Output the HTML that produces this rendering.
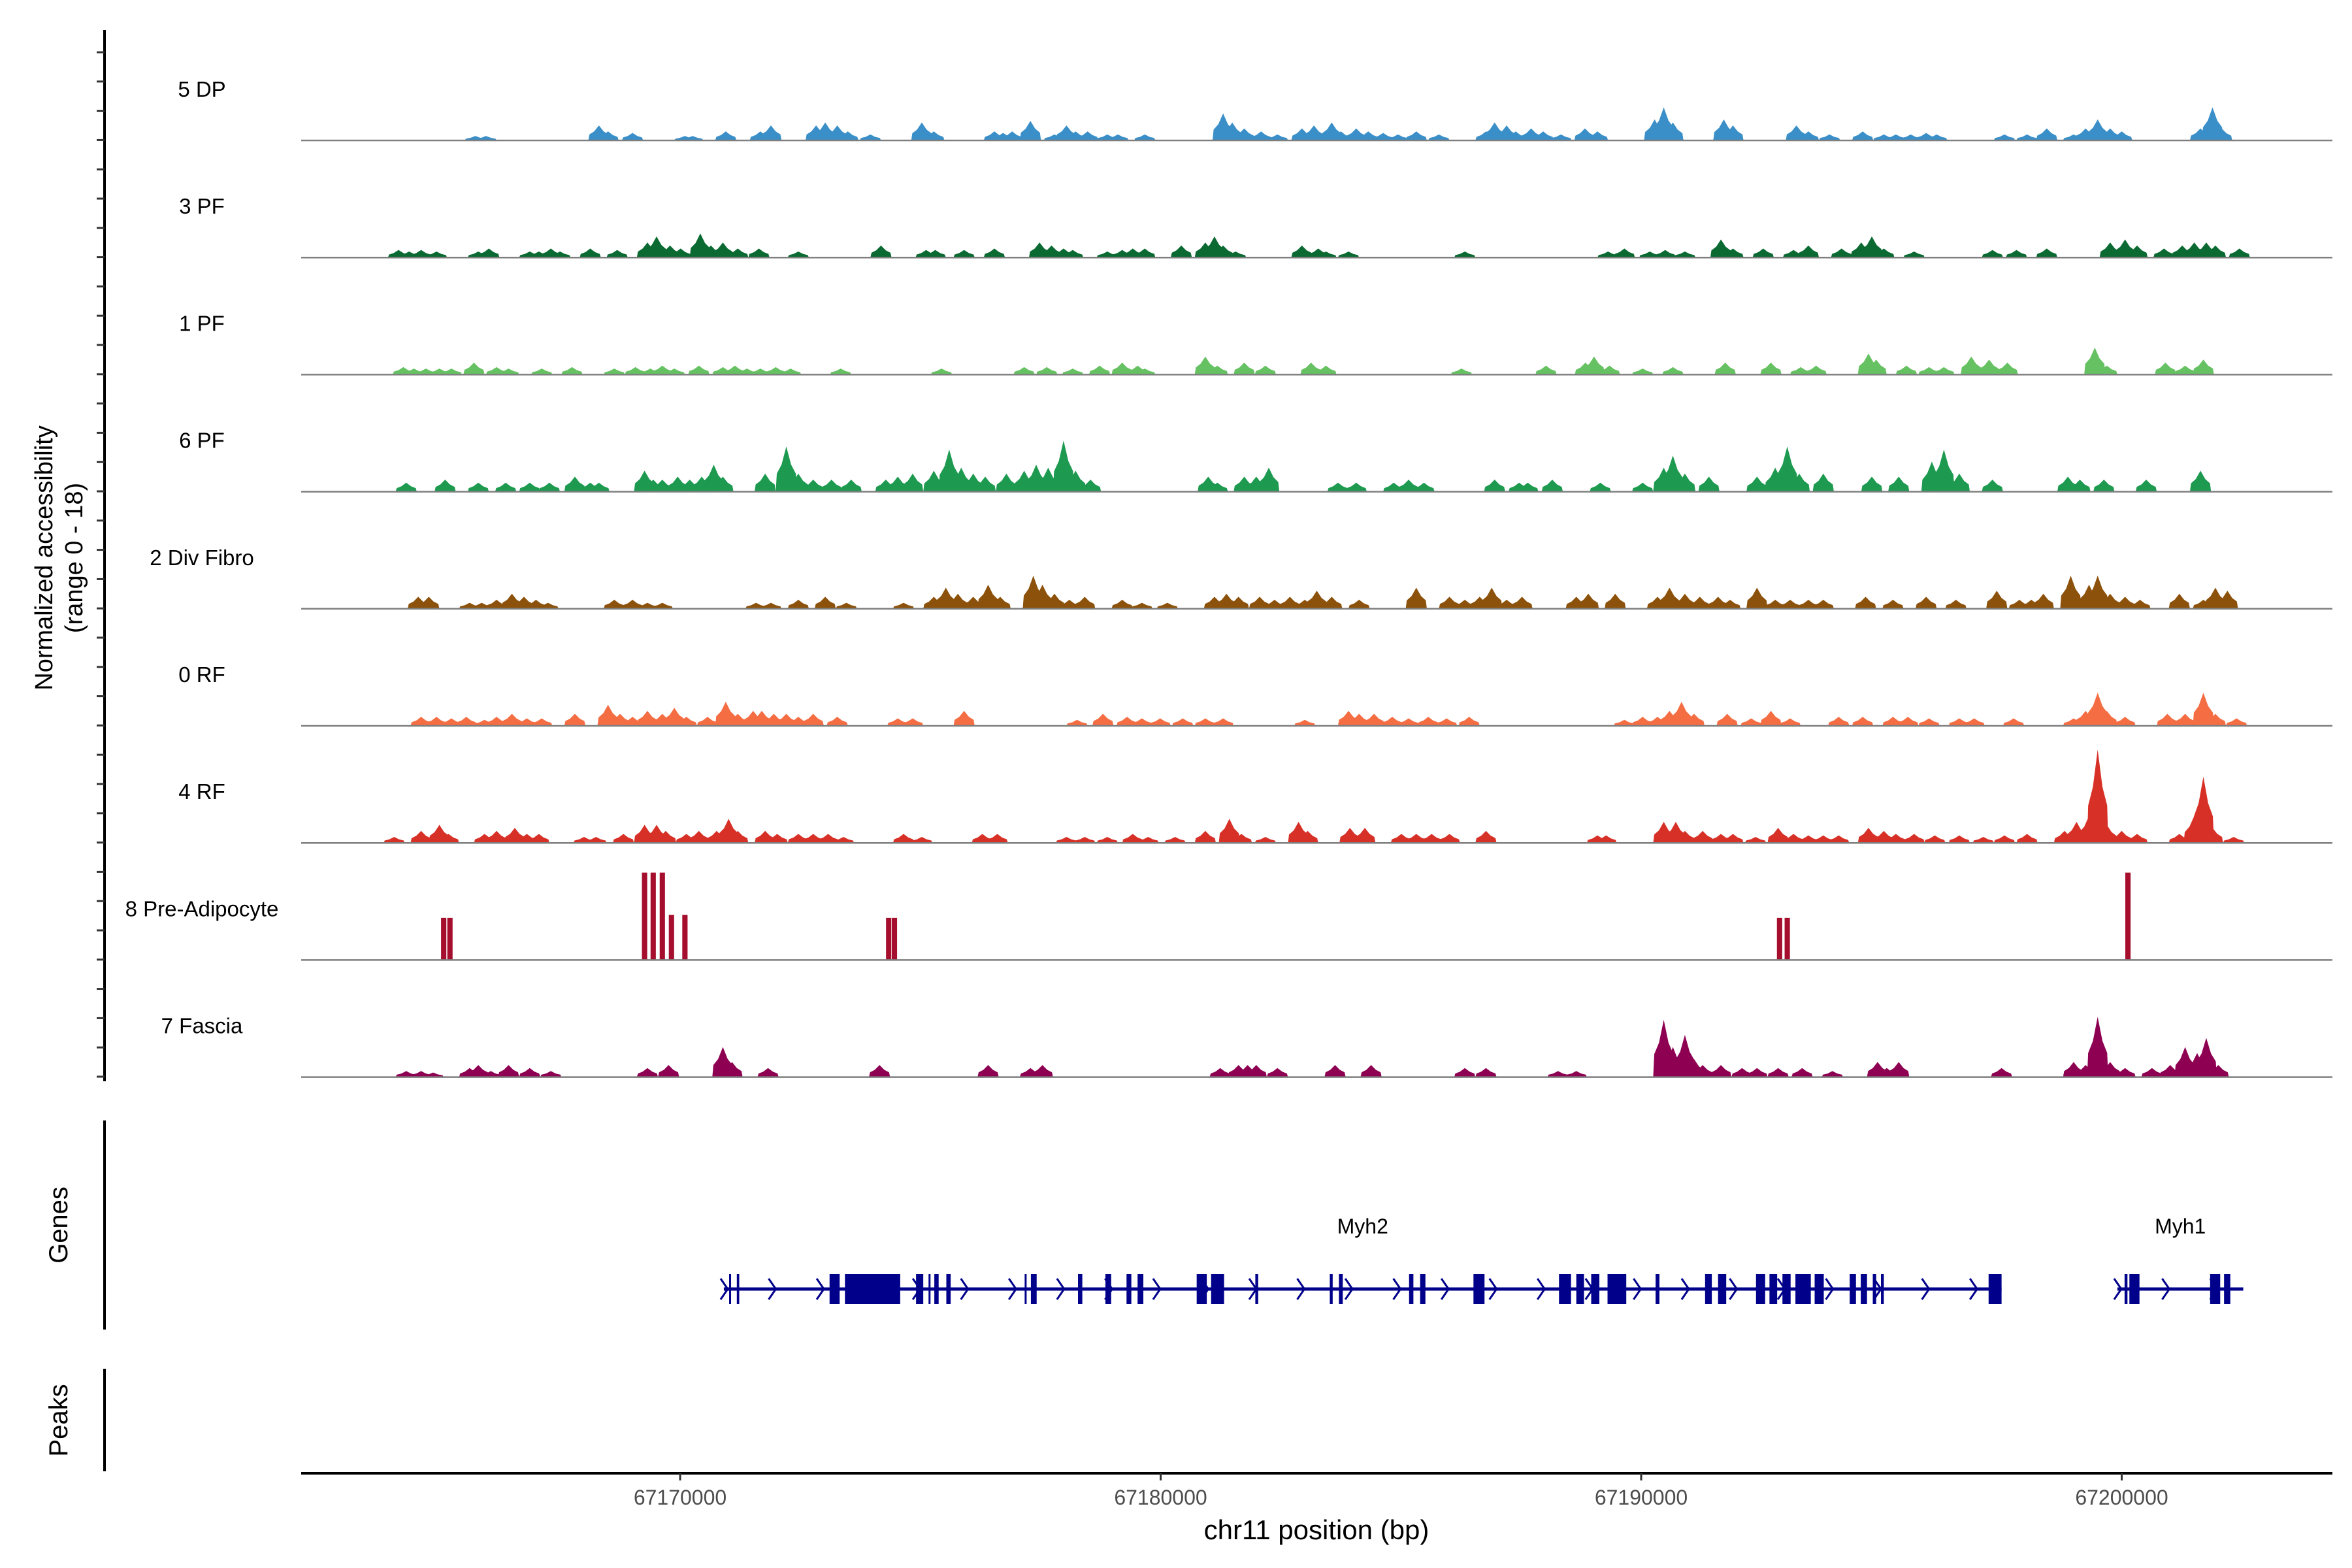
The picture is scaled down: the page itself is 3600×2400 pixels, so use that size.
<!DOCTYPE html>
<html><head><meta charset="utf-8"><style>
html,body{margin:0;padding:0;background:#fff;}
svg{display:block;font-family:"Liberation Sans",Arial,sans-serif;}
</style></head><body>
<svg id="chart" width="3600" height="2400" viewBox="0 0 3600 2400" xmlns="http://www.w3.org/2000/svg">
<g id="axes"></g>
<g id="tracks"></g>
<g id="genes"></g>
</svg>
<script>
// Region origin (kb); positions stored as kb offsets from this origin
const regionStartKb = 67160;
const xTickLabels = ["67170000","67180000","67190000","67200000"];
const xTickKb = [67170,67180,67190,67200];
const trackNames = ["5 DP","3 PF","1 PF","6 PF","2 Div Fibro","0 RF","4 RF","8 Pre-Adipocyte","7 Fascia"];
const trackColors = ["#3a8fc8","#0a6a32","#66c162","#1d9a50","#8c510a","#f46d43","#d73027","#a50f2d","#8e0152"];

const dpPos=[5.74,5.96,8.31,8.50,9.01,10.1,10.26,10.95,11.67,11.89,12.83,13.02,13.27,13.49,13.96,15.03,15.28,16.54,16.72,16.91,17.29,17.79,18.04,18.23,18.48,18.89,19.11,19.67,21.3,21.49,21.74,22.09,22.43,22.94,23.19,23.56,23.75,24.07,24.32,24.63,24.94,25.32,25.79,26.77,26.95,27.2,27.39,27.71,27.96,28.33,28.83,29.09,30.28,30.47,30.66,31.72,31.91,33.23,33.48,33.92,34.61,35.05,35.3,35.61,35.93,36.15,37.56,38.03,38.44,39.0,39.25,39.5,39.76,40.0,41.64,41.89,42.08];
const dpVal=[.75,.75,2.5,1.5,1.25,.75,.75,1.5,1.5,2.5,2.5,3,2.5,1.5,1,3,1.5,1.5,1.25,1.5,3.25,1,2.5,1.5,1.5,1,1,1,4.5,3,2,1.5,1,2,2.5,3,1.5,2,1.5,1.25,1,1.5,1,1.5,3,2.5,1.5,2,1.5,1,2,1.5,3.5,5.5,3,3.5,2.5,2.5,1.5,1,1.5,1,1,1,1.25,1,1,1,2,1,2,3.5,2,1.5,2,5.5,2];

const pf3Pos=[4.14,4.36,4.61,4.93,5.8,6.02,6.87,7.06,7.31,7.5,8.13,8.69,9.32,9.51,9.79,10.01,10.42,10.64,10.89,11.2,11.64,12.46,14.18,15.12,15.31,15.91,16.54,17.48,17.73,17.98,18.17,18.89,19.2,19.42,19.67,20.43,20.93,21.12,21.3,21.56,22.94,23.28,23.44,23.91,26.33,29.31,29.65,30.18,30.5,30.91,31.66,31.91,32.54,33.17,33.48,34.17,34.58,34.8,35.05,35.68,37.31,37.81,38.44,39.76,40.07,40.32,40.88,41.26,41.51,41.76,41.95,42.45];
const pf3Val=[1.25,1,1.25,1,1,1.5,1,1,1.5,1,1.5,1.25,2.5,3.5,2,1.5,4,2,2.5,1.5,1.5,1,2,1.25,1.25,1.25,1.5,2.5,2,1.5,1.25,1,1.25,1.5,1.5,2,2.5,3.5,2,1,2,1.5,1,1,1,1,1.5,1,1.25,1,3,1.5,1.5,1.25,2,1.5,2.5,3.5,1.5,1,1.25,1.25,1.5,2.5,3,2,1.5,2,2.5,2.5,2,1.5];

const pf1Pos=[4.24,4.46,4.71,4.99,5.24,5.71,6.18,6.43,7.12,7.75,8.63,9.07,9.38,9.63,9.88,10.39,10.89,11.14,11.39,11.67,11.99,12.3,13.34,15.44,17.16,17.63,18.17,18.73,19.2,19.52,19.67,20.93,21.18,21.74,22.18,23.13,23.44,26.26,28.02,28.84,29.02,29.34,30.03,30.66,31.75,32.7,33.32,33.64,34.73,34.89,35.52,35.99,36.3,36.87,37.24,37.62,39.44,39.69,40.91,41.32,41.7];
const pf1Val=[1.25,1,1,1,1,2,1.25,1,1,1.25,1,1.25,1,1.5,1,1.5,1.25,1.5,1,1,1.25,1,1,1,1.25,1.25,1,1.5,2,1.5,1,3,1.5,2,1.5,2,1.5,1,1.5,2,3,1.5,1,1.25,2,2,1.25,1.5,3.5,2.5,1.5,1.25,1.25,3,2.5,2,4.5,1.5,2,1.5,2.5];

const pf6Pos=[4.3,5.11,5.8,6.37,6.87,7.28,7.81,8.13,8.31,9.26,9.44,9.63,9.95,10.2,10.45,10.7,10.89,11.77,12.21,12.46,12.77,13.15,13.56,14.28,14.53,14.84,15.28,15.6,15.85,16.1,16.35,16.79,17.16,17.41,17.66,17.98,18.23,18.54,20.99,21.18,21.74,21.99,22.25,23.69,24.07,24.85,25.16,25.48,26.95,27.46,27.64,28.15,29.15,30.03,30.47,30.66,30.91,31.41,32.41,32.79,33.04,33.29,33.79,34.8,35.36,36.05,36.3,36.62,37.31,38.88,39.13,39.63,40.51,41.64];
const pf6Val=[1.5,2,1.5,1.5,1.5,1.5,2.5,1.5,1.5,3.5,2,2,2.5,2,2.5,4.5,2.5,3,7.5,3,2,2,2,2,2.5,3,3.5,7,4,3,2.5,3,3.5,4.5,4,8.5,3.5,2,2.5,1.5,2.5,2.5,4,1.5,1.5,1.5,2,1.5,2,1.5,1.5,2,1.5,1.5,4,6,3,2.5,2.5,4,7.5,3,3,2.5,2.5,5,7,3,2,2.5,2,2,2,3.5];

const dfPos=[4.55,4.77,5.62,5.87,6.18,6.5,6.75,7.0,7.25,8.63,9.01,9.32,9.63,11.58,11.89,12.46,13.02,13.46,14.65,15.28,15.53,15.78,16.1,16.41,16.66,17.35,17.54,17.79,18.1,18.42,19.2,19.61,20.14,21.12,21.37,21.62,22.06,22.37,22.69,23.0,23.25,23.56,24.13,25.32,26.01,26.33,26.64,26.89,27.2,27.52,28.65,28.9,29.46,30.34,30.59,30.91,31.22,31.6,31.85,32.41,32.79,33.1,33.48,33.79,34.67,35.24,35.93,36.55,37.4,37.87,38.12,38.37,38.94,39.32,39.5,39.76,40.07,40.38,41.2,41.7,41.95,42.2];
const dfVal=[2,2,1,1,1.5,2.5,2,1.5,1,1.5,1.5,1,1,1,1,1.5,2,1,1,2,3.5,2.5,2,4,2,5.5,4,2.5,1.5,2,1.5,1,1,2,2.5,2,2,1.5,2,1.5,3,2,1.5,3.5,2,1.5,2,3.5,1.5,2,2,2.5,2.5,2,3.5,2.5,2,2,1.5,3.5,1.5,1.5,1.5,1.5,2,1.5,2,1.5,3,1.5,1.5,2.5,5.5,4,5.5,2.5,2,1.5,2.5,1.5,3.5,3];

const rf0Pos=[4.61,4.93,5.24,5.55,5.93,6.18,6.5,6.81,7.12,7.81,8.5,8.75,9.01,9.32,9.63,9.88,10.13,10.57,10.95,11.2,11.52,11.7,11.95,12.21,12.46,12.77,13.27,14.53,14.84,15.91,18.26,18.8,19.3,19.61,19.99,20.46,20.93,21.3,23.0,23.91,24.13,24.44,24.82,25.16,25.57,25.95,26.42,29.65,30.03,30.34,30.59,30.84,31.1,31.79,32.29,32.7,33.1,34.11,34.61,35.24,35.55,35.99,36.62,36.93,37.75,39.0,39.25,39.5,39.69,40.07,40.95,41.32,41.7,41.95,42.39];
const rf0Val=[1.5,1.5,1.25,1.5,1,1.5,2,1.25,1.25,2,3.5,2,1.5,2.5,2,3,1.5,1.5,4,2,2.5,2.5,2,2,1.5,2,1.5,1.25,1.25,2.5,1,2,1.5,1.25,1.25,1.25,1.25,1.25,1,2.5,2,2,1.5,1.25,1.5,1.25,1.5,1,1.5,1.5,2.5,4,2,2,1.25,2.5,1.25,1.5,1.5,1.5,1.5,1.25,1.25,1.25,1.25,1.25,2.5,5.5,2.5,1.5,2,2,5.5,2,1.25];

const rf4Pos=[4.05,4.61,4.99,5.18,5.93,6.18,6.56,6.81,7.06,8.0,8.25,8.82,9.26,9.51,9.7,10.13,10.39,10.76,11.01,11.2,11.77,12.02,12.46,12.77,13.08,13.4,14.65,15.03,16.29,16.6,18.04,18.42,18.89,19.42,19.74,20.3,20.93,21.43,21.68,22.18,22.87,23.06,23.94,24.25,25.01,25.32,25.64,26.01,26.77,29.09,29.27,30.47,30.72,30.91,31.28,31.66,31.91,32.38,32.85,33.17,33.48,33.79,34.11,34.73,35.05,35.3,35.68,36.11,36.62,37.12,37.56,38.03,38.81,39.06,39.32,39.5,39.69,40.0,40.32,41.2,41.51,41.7,41.89,42.33];
const rf4Val=[1,2,3,1.5,1.5,2,2.5,1.5,1.5,1,1,1.5,3,3,2,1.5,2,2,4,2,2,1.5,1.5,1.5,1.5,1,1.5,1,1.5,1.5,1,1,1,1.5,1,1,2,4,1.5,1,3.5,2,2.5,2.5,1.5,1.5,1.5,1.5,2,1.25,1.25,3.5,3.5,2,2,1.5,1.5,1,2.5,1.5,1.25,1.25,1.25,2.5,2,1.5,1.5,1.25,1.25,1,1.25,1.5,2,3.5,4.5,15.5,3,2,1.5,1.5,4.5,11,2.5,1];

const paPos=[5.08,5.21,9.26,9.44,9.63,9.82,10.1,14.34,14.46,32.88,33.04,40.13];
const paVal=[7,7,14.5,14.5,14.5,7.5,7.5,7,7,7,7,14.5];

const faPos=[4.3,4.61,4.86,5.62,5.8,6.06,6.43,6.87,7.31,9.32,9.76,10.89,11.08,11.83,14.15,16.41,17.29,17.54,21.24,21.62,21.81,21.99,22.43,23.63,24.38,26.33,26.77,28.27,28.65,30.47,30.66,30.91,31.1,31.28,31.66,32.1,32.41,32.85,33.35,33.98,34.92,35.11,35.36,37.5,39.0,39.25,39.5,39.76,40.07,40.63,41.01,41.32,41.57,41.76,42.01];
const faVal=[1,1,.75,1.5,2,1,2,1.5,1,1.5,2,5,2.5,1.5,2,2,1.5,2,1.5,2,2,2,1.5,2,2,1.5,1.5,1,1,9.5,5,7,3,2,2,1.5,1.5,1.5,1.5,1,2.5,1.5,2.5,1.5,2.5,2,10,2.5,1.5,1.5,2,5,4,6.5,2];

const trackPos=[dpPos,pf3Pos,pf1Pos,pf6Pos,dfPos,rf0Pos,rf4Pos,paPos,faPos];
const trackVal=[dpVal,pf3Val,pf1Val,pf6Val,dfVal,rf0Val,rf4Val,paVal,faVal];

const geneNames=["Myh2","Myh1"];
const geneStartKb=[67170.91,67199.91];
const geneEndKb=[67197.50,67202.53];
const exonStartKb=[67171.02,67171.18,67173.11,67173.43,67174.91,67175.17,67175.29,67175.54,67177.17,67177.30,67178.28,67178.85,67179.29,67179.52,67180.75,67181.05,67181.97,67183.52,67183.71,67185.17,67185.40,67186.51,67188.29,67188.65,67188.96,67189.30,67190.30,67191.33,67191.60,67192.39,67192.67,67192.94,67193.21,67193.61,67194.34,67194.57,67194.82,67194.99,67197.23,67200.06,67200.16,67201.84,67202.13];
const exonEndKb=[67171.06,67171.23,67173.32,67174.58,67175.06,67175.21,67175.38,67175.63,67177.21,67177.42,67178.37,67178.97,67179.39,67179.64,67180.96,67181.32,67182.03,67183.58,67183.79,67185.26,67185.51,67186.74,67188.54,67188.81,67189.13,67189.69,67190.38,67191.47,67191.77,67192.58,67192.83,67193.11,67193.53,67193.80,67194.47,67194.70,67194.89,67195.05,67197.50,67200.12,67200.37,67202.05,67202.26];

const NS="http://www.w3.org/2000/svg";
const plotL=461, plotR=3570;
function xKb(kb){return 1041+(kb-67170)*73.55;}
function xOff(o){return xKb(regionStartKb+o);}
const baseY0=215, trackStep=179.2, yMax=18, trackH=166;
function yVal(i,v){return baseY0+i*trackStep - v/yMax*trackH;}
function mk(tag,attrs,parent){const e=document.createElementNS(NS,tag);for(const k in attrs)e.setAttribute(k,attrs[k]);parent.appendChild(e);return e;}

const axes=document.getElementById('axes');
const tracks=document.getElementById('tracks');
const genes=document.getElementById('genes');

let l=mk('line',{x1:160,y1:46,x2:160,y2:1655,stroke:'#000','stroke-width':4},axes);


for(let y=80;y<1650;y+=44.8){
  const t=mk('line',{x1:148,y1:y,x2:160,y2:y,stroke:'#333','stroke-width':3},axes);
  
  
}
let yt=mk('text',{x:0,y:0,'font-size':38,'text-anchor':'middle',transform:'translate(80,854) rotate(-90)',fill:'#000'},axes);
yt.textContent='Normalized accessibility';


let yt2=mk('text',{x:0,y:0,'font-size':38,'text-anchor':'middle',transform:'translate(126,854) rotate(-90)',fill:'#000'},axes);
yt2.textContent='(range 0 - 18)';



let gl=mk('line',{x1:160,y1:1715,x2:160,y2:2035,stroke:'#000','stroke-width':4},axes);


let gt=mk('text',{x:0,y:0,'font-size':40,'text-anchor':'middle',transform:'translate(103,1875) rotate(-90)',fill:'#000'},axes);
gt.textContent='Genes';


let pl=mk('line',{x1:160,y1:2095,x2:160,y2:2252,stroke:'#000','stroke-width':4},axes);


let pt=mk('text',{x:0,y:0,'font-size':40,'text-anchor':'middle',transform:'translate(103,2174) rotate(-90)',fill:'#000'},axes);
pt.textContent='Peaks';



let xa=mk('line',{x1:plotL,y1:2255,x2:plotR,y2:2255,stroke:'#000','stroke-width':4},axes);


xTickKb.forEach((kb,i)=>{
  const x=xKb(kb);
  const t=mk('line',{x1:x,y1:2255,x2:x,y2:2266,stroke:'#333','stroke-width':3},axes);
  
  
  const tl=mk('text',{x:x,y:2303,'font-size':32,'text-anchor':'middle',fill:'#4d4d4d'},axes);
  tl.textContent=xTickLabels[i];
  
  
});
let xt=mk('text',{x:2015,y:2356,'font-size':42,'text-anchor':'middle',fill:'#000'},axes);
xt.textContent='chr11 position (bp)';



const hw=0.22;
trackNames.forEach((name,i)=>{
  const g=mk('g',{},tracks);
  
  
  const by=baseY0+i*trackStep;
  const lab=mk('text',{x:309,y:by-67,'font-size':33,'text-anchor':'middle',fill:'#000'},g);
  lab.textContent=name;
  
  
  const pos=trackPos[i], val=trackVal[i];
  pos.forEach((p,j)=>{
    const v=val[j];
    let pts;
    if(i===7){
      const x0=xOff(p-0.055), x1=xOff(p+0.055), yt=yVal(i,v);
      pts=`${x0},${by} ${x0},${yt} ${x1},${yt} ${x1},${by}`;
    } else {
      const xa=xOff(p-hw), xa2=xOff(p-hw*0.9), xb=xOff(p-hw*0.45), xc=xOff(p), xd=xOff(p+hw*0.45), xe2=xOff(p+hw*0.9), xe=xOff(p+hw);
      pts=`${xa},${by} ${xa2},${yVal(i,v*0.4)} ${xb},${yVal(i,v*0.6)} ${xc},${yVal(i,v)} ${xd},${yVal(i,v*0.6)} ${xe2},${yVal(i,v*0.4)} ${xe},${by}`;
    }
    const m=mk('polygon',{points:pts,fill:trackColors[i]},g);
    
    
  });
  const bl=mk('line',{x1:plotL,y1:by,x2:plotR,y2:by,stroke:'#7f7f7f','stroke-width':2.5},g);
  
  
});

const gy=1973, gCol='#00008b';
geneNames.forEach((n,i)=>{
  const x0=xKb(geneStartKb[i]), x1=xKb(geneEndKb[i]);
  const ln=mk('line',{x1:x0,y1:gy,x2:x1,y2:gy,stroke:gCol,'stroke-width':5},genes);
  
  
  for(let kb=geneStartKb[i];kb<=geneEndKb[i]+0.05;kb+=1.0){
    const x=xKb(kb);
    const c=mk('polyline',{points:`${x-5},${gy-16} ${x+6},${gy} ${x-5},${gy+16}`,fill:'none',stroke:gCol,'stroke-width':3},genes);
    
    
  }
  const lb=mk('text',{x:(x0+x1)/2,y:1888,'font-size':32,'text-anchor':'middle',fill:'#000'},genes);
  lb.textContent=n;
  
  
});
exonStartKb.forEach((s,j)=>{
  const x0=xKb(s), x1=xKb(exonEndKb[j]);
  const r=mk('rect',{x:x0,y:1950,width:Math.max(3,x1-x0),height:46,fill:gCol},genes);
  
  
});
</script>
</body></html>
